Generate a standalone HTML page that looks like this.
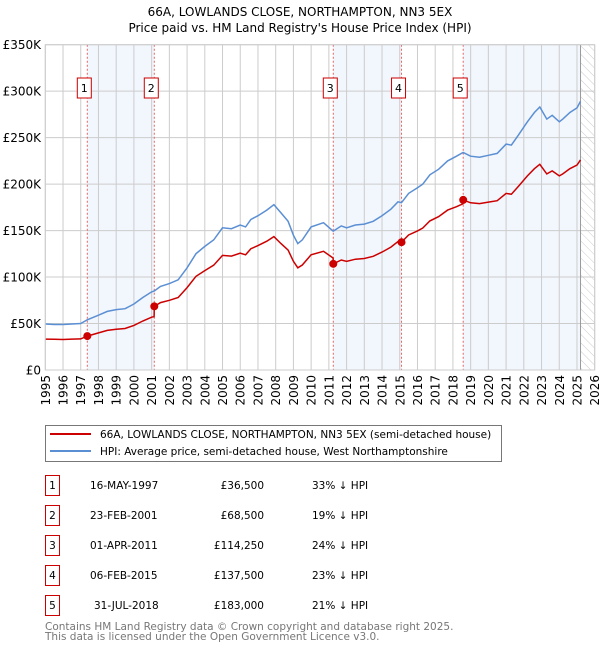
<!DOCTYPE html>
<html><head><meta charset="utf-8"><style>
body{margin:0;background:#fff;width:600px;height:650px;overflow:hidden;font-family:"DejaVu Sans","Liberation Sans",sans-serif}
svg text{font-family:"DejaVu Sans","Liberation Sans",sans-serif}
</style></head><body>
<svg id="chart" width="600" height="650" xmlns="http://www.w3.org/2000/svg">
<defs><pattern id="hatch" width="6" height="6" patternUnits="userSpaceOnUse" patternTransform="rotate(-45)"><line x1="0" y1="0" x2="0" y2="6" stroke="#ccc" stroke-width="1"/></pattern></defs>
<text x="300" y="16" text-anchor="middle" font-size="12" fill="#000">66A, LOWLANDS CLOSE, NORTHAMPTON, NN3 5EX</text>
<text x="300" y="32" text-anchor="middle" font-size="12" fill="#000">Price paid vs. HM Land Registry's House Price Index (HPI)</text>
<g id="plot"></g>
<g>
<rect x="45.5" y="425.5" width="456" height="36" fill="#fff" stroke="#777"/>
<line x1="50" y1="434" x2="91" y2="434" stroke="#cc0000" stroke-width="2"/>
<text x="100" y="438" font-size="10.5">66A, LOWLANDS CLOSE, NORTHAMPTON, NN3 5EX (semi-detached house)</text>
<line x1="50" y1="451" x2="91" y2="451" stroke="#5b8fd4" stroke-width="2"/>
<text x="100" y="455" font-size="10.5">HPI: Average price, semi-detached house, West Northamptonshire</text>
</g>
<g id="table"></g>
<text x="45" y="630" font-size="10.5" fill="#777">Contains HM Land Registry data © Crown copyright and database right 2025.</text>
<text x="45" y="640" font-size="10.5" fill="#777">This data is licensed under the Open Government Licence v3.0.</text>
</svg>
<script>
const years=[1995.0,1995.5,1996.0,1996.5,1997.0,1997.37,1998.0,1998.5,1999.0,1999.5,2000.0,2000.5,2001.0,2001.14,2001.15,2001.5,2002.0,2002.5,2003.0,2003.5,2004.0,2004.5,2005.0,2005.5,2006.0,2006.3,2006.6,2007.0,2007.5,2007.9,2008.3,2008.7,2009.0,2009.25,2009.5,2010.0,2010.7,2011.24,2011.25,2011.7,2012.0,2012.5,2013.0,2013.5,2014.0,2014.5,2014.9,2015.1,2015.5,2016.0,2016.3,2016.7,2017.2,2017.7,2018.2,2018.57,2018.58,2019.0,2019.5,2020.0,2020.5,2021.0,2021.3,2021.7,2022.2,2022.6,2022.9,2023.3,2023.6,2024.0,2024.2,2024.6,2025.0,2025.2];
const hpiValues=[49.5,49,49,49.5,50,54,59,63,65,66,71,78,84,85,85,90,93,97,110,125,133,140,153,152,156,154,162,166,172,178,169,160,145,136,140,154,158.5,149.5,149.5,155,153,156,157,160,166,173,181,180,190,196,200,210,216,225,230,234,234,230,229,231,233,243,242,253,267,277,283,270,274,267,270,277,282,289];
const propertyValues=[33.2,33,32.8,33.2,33.5,36.5,39.9,42.6,43.9,44.6,48,52.7,56.8,57.5,68.5,72.5,75,78,88.7,100.7,107,112.8,123.3,122.5,125.7,124,130.5,133.8,138.6,143.5,136,129,117,110,113,124,127.7,120.5,114.25,118.4,117,119.2,120,122.3,126.8,132.2,138.3,137.5,145.2,149.7,152.8,160.4,165,172,175.7,178.8,183,179.9,179,180.6,182.2,190,189.2,197.8,208.8,216.6,221.3,211,214.2,208.8,211,216.6,220.5,226];
const saleYears=[1997.37,2001.15,2011.25,2015.1,2018.58];
const salePrices=[36.5,68.5,114.25,137.5,183];
const saleDates=["16-MAY-1997","23-FEB-2001","01-APR-2011","06-FEB-2015","31-JUL-2018"];
const salePriceLabels=["£36,500","£68,500","£114,250","£137,500","£183,000"];
const salePct=["33% ↓ HPI","19% ↓ HPI","24% ↓ HPI","23% ↓ HPI","21% ↓ HPI"];
const yTicks=[0,50,100,150,200,250,300,350];
const yTickLabels=["£0","£50K","£100K","£150K","£200K","£250K","£300K","£350K"];
const xTicks=[1995,1996,1997,1998,1999,2000,2001,2002,2003,2004,2005,2006,2007,2008,2009,2010,2011,2012,2013,2014,2015,2016,2017,2018,2019,2020,2021,2022,2023,2024,2025,2026];

const NS="http://www.w3.org/2000/svg";
const L=45.3,R=594.7,T=44.7,B=370;
const X=y=>L+(y-1995)/(2026-1995)*(R-L);
const Y=v=>B-v/350*(B-T);
const plot=document.getElementById('plot');
function mk(tag,attrs,parent){const e=document.createElementNS(NS,tag);for(const k in attrs)e.setAttribute(k,attrs[k]);(parent||plot).appendChild(e);return e;}
const dataEnd=2025.2;
const shades=[[saleYears[0],saleYears[1]],[saleYears[2],saleYears[3]],[saleYears[4],dataEnd]];
shades.forEach(s=>{const r=mk('rect',{x:X(s[0]),y:T,width:X(s[1])-X(s[0]),height:B-T,fill:'#f2f6fd'});

});
const h=mk('rect',{x:X(dataEnd),y:T,width:R-X(dataEnd),height:B-T,fill:'url(#hatch)'});


xTicks.forEach(t=>{const g=mk('line',{x1:X(t),x2:X(t),y1:T,y2:B,stroke:'#ccc','stroke-width':1});


const tx=mk('text',{x:0,y:0,'font-size':12,'text-anchor':'end',transform:`translate(${X(t)+4.5},375) rotate(-90)`});tx.textContent=t;

});
yTicks.forEach((t,i)=>{const g=mk('line',{x1:L,x2:R,y1:Y(t),y2:Y(t),stroke:'#ccc','stroke-width':1});


const tx=mk('text',{x:41,y:Y(t)+4.5,'font-size':12,'text-anchor':'end'});tx.textContent=yTickLabels[i];

});
const ve=mk('line',{x1:X(dataEnd),x2:X(dataEnd),y1:T,y2:B,stroke:'#999','stroke-width':1});


saleYears.forEach((s,i)=>{const l=mk('line',{x1:X(s),x2:X(s),y1:T,y2:B,stroke:'#e06666','stroke-width':1,'stroke-dasharray':'2,2'});


const b=mk('rect',{x:X(s)-10,y:78,width:14,height:20,fill:'#fff',stroke:'#cc0000'});


const t=mk('text',{x:X(s)-3,y:92,'font-size':11,'text-anchor':'middle'});t.textContent=i+1;

});
const pts=v=>years.map((y,i)=>X(y).toFixed(1)+','+Y(v[i]).toFixed(1)).join(' ');
const hl=mk('polyline',{points:pts(hpiValues),fill:'none',stroke:'#5b8fd4','stroke-width':1.5});


const pl=mk('polyline',{points:pts(propertyValues),fill:'none',stroke:'#cc0000','stroke-width':1.5});


saleYears.forEach((s,i)=>{const c=mk('circle',{cx:X(s),cy:Y(salePrices[i]),r:4,fill:'#cc0000'});

});
const fr=mk('rect',{x:L,y:T,width:R-L,height:B-T,fill:'none',stroke:'#ccc'});


const tb=document.getElementById('table');
saleDates.forEach((d,i)=>{const y0=475+i*30;
const b=mk('rect',{x:45.5,y:y0+0.5,width:14,height:20,fill:'#fff',stroke:'#cc0000'},tb);


const n=mk('text',{x:52.5,y:y0+14,'font-size':10.5,'text-anchor':'middle'},tb);n.textContent=i+1;


const dt=mk('text',{x:i==4?94:90,y:y0+14,'font-size':10.5},tb);dt.textContent=d;


const pr=mk('text',{x:264,y:y0+14,'font-size':10.5,'text-anchor':'end'},tb);pr.textContent=salePriceLabels[i];


const pc=mk('text',{x:312,y:y0+14,'font-size':10.5},tb);pc.textContent=salePct[i];

});
</script>
</body></html>
